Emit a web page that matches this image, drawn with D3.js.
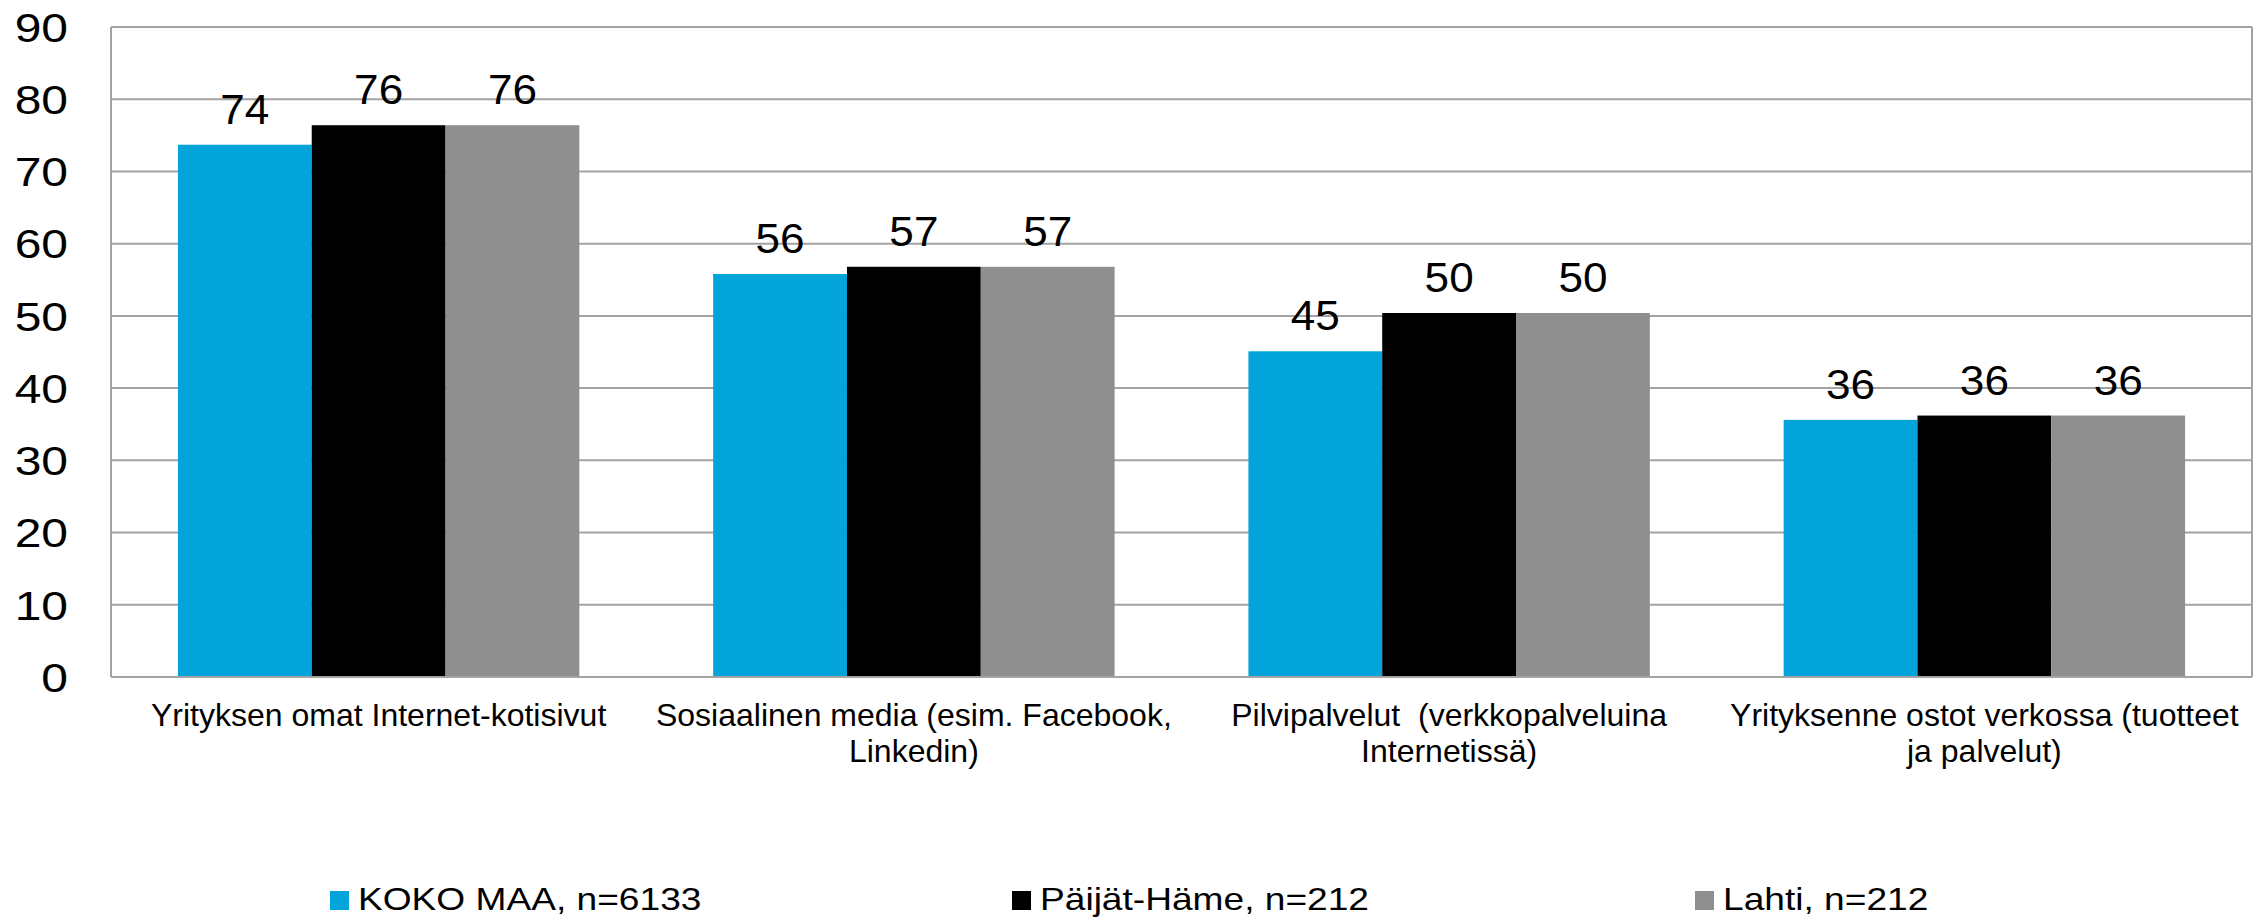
<!DOCTYPE html>
<html>
<head>
<meta charset="utf-8">
<script src="https://cdn.jsdelivr.net/npm/d3@7"></script>
<style>
  html, body { margin: 0; padding: 0; background: #fff; }
  svg { display: block; font-family: "Liberation Sans", Arial, sans-serif; }
</style>
</head>
<body>
<svg id="chart" width="2267" height="921"></svg>
<script>
const categories = [
  ["Yrityksen omat Internet-kotisivut"],
  ["Sosiaalinen media (esim. Facebook,", "Linkedin)"],
  ["Pilvipalvelut  (verkkopalveluina", "Internetissä)"],
  ["Yrityksenne ostot verkossa (tuotteet", "ja palvelut)"]
];
const seriesNames = ["KOKO MAA, n=6133", "Päijät-Häme, n=212", "Lahti, n=212"];
const seriesColors = ["#02A4D9", "#000000", "#8F8F8F"];
const kokoMaa = [73.7, 55.8, 45.1, 35.6];
const paijatHame = [76.4, 56.8, 50.4, 36.2];
const lahti = [76.4, 56.8, 50.4, 36.2];
const seriesValues = [kokoMaa, paijatHame, lahti];
const yTicks = [0, 10, 20, 30, 40, 50, 60, 70, 80, 90];

(function () {
const svg = d3.select("#chart");
const pLeft = 111, pRight = 2252, pTop = 27, pBottom = 677;
const catIdx = categories.map((d, i) => i);

const x0 = d3.scaleBand().domain(catIdx).range([pLeft, pRight]).padding(0);
const x1 = d3.scaleBand().domain([0, 1, 2]).range([0, x0.bandwidth()]).paddingInner(0).paddingOuter(0.5);
const y = d3.scaleLinear().domain([0, 90]).range([pBottom, pTop]);

// gridlines
svg.append("g").selectAll("line").data(yTicks).join("line")
  .attr("x1", pLeft).attr("x2", pRight)
  .attr("y1", d => y(d)).attr("y2", d => y(d))
  .attr("stroke", "#A3A3A3").attr("stroke-width", 2);

// plot border left/right
svg.append("line").attr("x1", pLeft).attr("x2", pLeft).attr("y1", pTop).attr("y2", pBottom)
  .attr("stroke", "#A3A3A3").attr("stroke-width", 2);
svg.append("line").attr("x1", pRight).attr("x2", pRight).attr("y1", pTop).attr("y2", pBottom)
  .attr("stroke", "#A3A3A3").attr("stroke-width", 2);

// y tick labels
svg.append("g").selectAll("text").data(yTicks).join("text")
  .attr("transform", d => `translate(68,${y(d)}) scale(1.17,1)`)
  .attr("dy", "0.36em")
  .attr("text-anchor", "end").attr("font-size", 41).attr("fill", "#000")
  .text(d => d);

// bars
const barData = [];
catIdx.forEach(ci => seriesValues.forEach((vals, si) => barData.push({ci, si, v: vals[ci]})));

svg.append("g").selectAll("rect").data(barData).join("rect")
  .attr("x", d => x0(d.ci) + x1(d.si))
  .attr("width", x1.bandwidth())
  .attr("y", d => y(d.v))
  .attr("height", d => y(0) - y(d.v))
  .attr("fill", d => seriesColors[d.si]);

// baseline
svg.append("line").attr("x1", pLeft).attr("x2", pRight).attr("y1", y(0)).attr("y2", y(0))
  .attr("stroke", "#A3A3A3").attr("stroke-width", 2);

// value labels
svg.append("g").selectAll("text").data(barData).join("text")
  .attr("transform", d => `translate(${x0(d.ci) + x1(d.si) + x1.bandwidth() / 2},${y(d.v) - 21}) scale(1.05,1)`)
  .attr("text-anchor", "middle").attr("font-size", 42).attr("fill", "#000")
  .text(d => Math.round(d.v));

// category labels
const catG = svg.append("g").selectAll("text").data(catIdx).join("text")
  .attr("text-anchor", "middle").attr("font-size", 32).attr("fill", "#000")
  .style("white-space", "pre");
catG.each(function(ci) {
  const t = d3.select(this);
  categories[ci].forEach((line, li) => {
    t.append("tspan")
      .attr("x", x0(ci) + x0.bandwidth() / 2)
      .attr("y", 726 + li * 36)
      .text(line);
  });
});

// legend
const legendX = [330, 1012, 1695];
const lg = svg.append("g").selectAll("g").data(seriesNames).join("g");
lg.append("rect")
  .attr("x", (d, i) => legendX[i]).attr("y", 891)
  .attr("width", 19).attr("height", 19)
  .attr("fill", (d, i) => seriesColors[i]);
lg.append("text")
  .attr("transform", (d, i) => `translate(${legendX[i] + 28},910) scale(1.16,1)`)
  .attr("font-size", 32).attr("fill", "#000")
  .text(d => d);
})();
</script>
</body>
</html>
